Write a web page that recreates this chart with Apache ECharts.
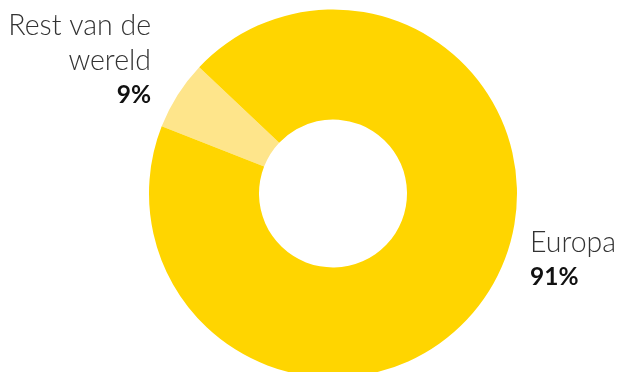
<!DOCTYPE html>
<html><head><meta charset="utf-8">
<script src="https://cdn.jsdelivr.net/npm/echarts@6/dist/echarts.min.js"></script>
<style>html,body{margin:0;padding:0;background:#fff}#c{width:620px;height:372px}</style>
</head><body><div id="c"></div>
<script>
// Categories and printed percentages
const categories = ['Rest van de\nwereld', 'Europa'];
const printedShares = ['9%', '91%'];
// Slice sizes as drawn in the picture (angular share of the ring)
const sliceValues = [6.1, 93.9];
const colors = ['#FEE58B', '#FFD500'];

const chart = echarts.init(document.getElementById('c'), null, {renderer: 'canvas'});
const labelPos = [
  {x: 151, y: 8, align: 'right'},
  {x: 530, y: 225, align: 'left'}
];
const rich = {
  n: {fontFamily: 'Lato', fontWeight: 300, fontSize: 28.5, color: '#333', lineHeight: 35},
  p: {fontFamily: 'Lato', fontWeight: 'bold', fontSize: 24.5, color: '#111', lineHeight: 35}
};
chart.setOption({
  animation: false,
  series: [{
    type: 'pie',
    center: [333, 193.5],
    radius: [74, 184],
    startAngle: 158.6,
    clockwise: true,
    silent: true,
    labelLine: {show: false},
    label: {
      show: true,
      overflow: 'none',
      width: 300,
      formatter: p => p.name.split('\n').map(s => '{n|' + s + '}').join('\n') + '\n{p|' + printedShares[p.dataIndex] + '}',
      rich: rich
    },
    labelLayout: params => Object.assign({verticalAlign: 'top'}, labelPos[params.dataIndex]),
    data: categories.map((c, i) => ({name: c, value: sliceValues[i], itemStyle: {color: colors[i]},
      label: {align: labelPos[i].align}}))
  }]
});
</script></body></html>
